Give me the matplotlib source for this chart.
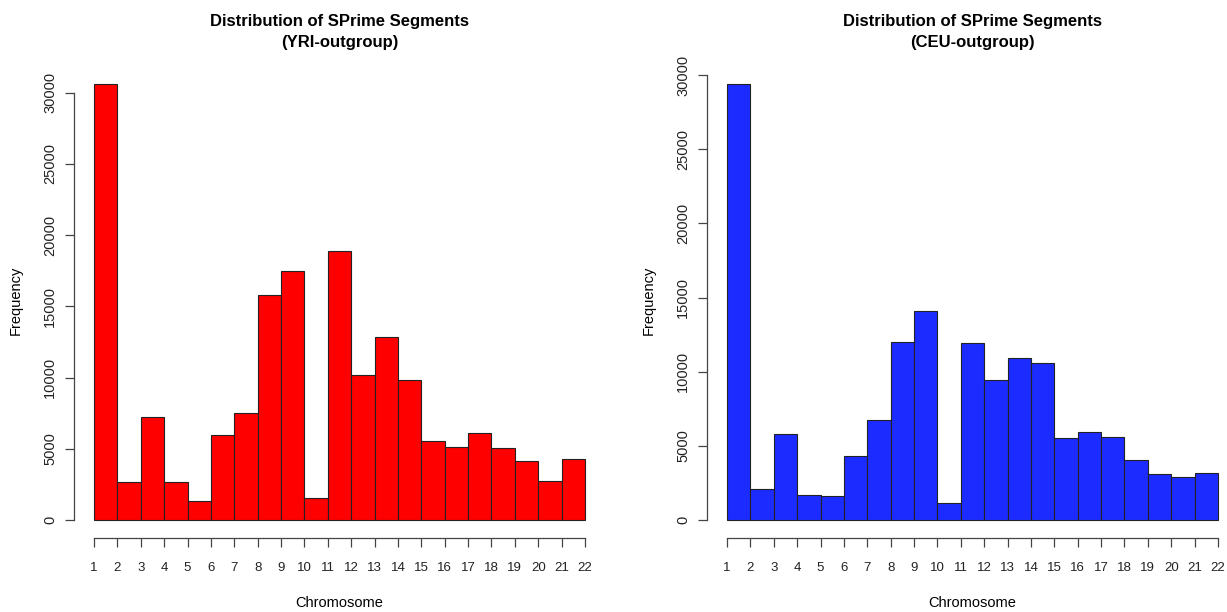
import numpy as np
import matplotlib
matplotlib.use('Agg')
from matplotlib import pyplot as plt

# counts per chromosome bin (bin i spans chromosome i .. i+1)
chromosomes = list(range(1, 23))
yri_counts = [30630, 2650, 7240, 2670, 1360, 6000, 7520, 15800, 17480, 1550,
              18910, 10190, 12820, 9840, 5580, 5160, 6140, 5040, 4150, 2720, 4310]
ceu_counts = [29410, 2120, 5830, 1690, 1620, 4300, 6730, 12000, 14070, 1150,
              11950, 9410, 10940, 10580, 5540, 5960, 5600, 4050, 3080, 2900, 3150]
y_ticks = [0, 5000, 10000, 15000, 20000, 25000, 30000]

titles = ['Distribution of SPrime Segments\n(YRI-outgroup)',
          'Distribution of SPrime Segments\n(CEU-outgroup)']
colors = ['#FF0000', '#1C2BFF']

W, H = 1227, 612
plt.rcParams['font.family'] = ['Liberation Sans', 'DejaVu Sans']
fig = plt.figure(figsize=(W / 100, H / 100), dpi=100)

def px_axes(x0, x1, y0, y1):
    # pixel box (top-left origin) -> figure fraction axes
    return fig.add_axes([x0 / W, 1 - y1 / H, (x1 - x0) / W, (y1 - y0) / H])

boxes = [(74.4, 604.6, 66.3, 537.5), (707.4, 1237.6, 66.3, 537.5)]
axis_col = '#444444'

for box, counts, title, col in zip(boxes, [yri_counts, ceu_counts], titles, colors):
    ax = px_axes(*box)
    edges = np.array(chromosomes)
    ax.bar(edges[:-1], counts, width=1, align='edge', color=col,
           edgecolor='#222222', linewidth=0.8)
    top = max(counts)
    ax.set_xlim(1 - 0.84, 22 + 0.84)
    ax.set_ylim(-0.04 * top, 1.04 * top)

    for s in ['top', 'right']:
        ax.spines[s].set_visible(False)
    ax.spines['left'].set_bounds(0, 30000)
    ax.spines['bottom'].set_bounds(1, 22)
    for s in ['left', 'bottom']:
        ax.spines[s].set_color(axis_col)
        ax.spines[s].set_linewidth(0.9)

    ax.set_xticks(chromosomes)
    ax.set_xticklabels([str(c) for c in chromosomes], fontsize=9.5, color='#222222')
    ax.set_yticks(y_ticks)
    ax.set_yticklabels([str(v) for v in y_ticks], rotation=90, va='center',
                       fontsize=10.5, color='#222222')
    ax.tick_params(axis='x', length=6.5, width=0.9, color=axis_col, pad=11)
    ax.tick_params(axis='y', length=6.5, width=0.9, color=axis_col, pad=6)

    ax.text(0.5, 1.072, title, transform=ax.transAxes, ha='center', va='center',
            fontsize=12, fontweight='bold', linespacing=1.5)
    ax.text(0.5, -0.139, 'Chromosome', transform=ax.transAxes, ha='center',
            va='center', fontsize=10.5)
    fig.text((box[0] - 58.4) / W, 1 - 300 / H, 'Frequency', rotation=90,
             ha='center', va='center', fontsize=10.5)

fig.savefig('out.png', dpi=100)
